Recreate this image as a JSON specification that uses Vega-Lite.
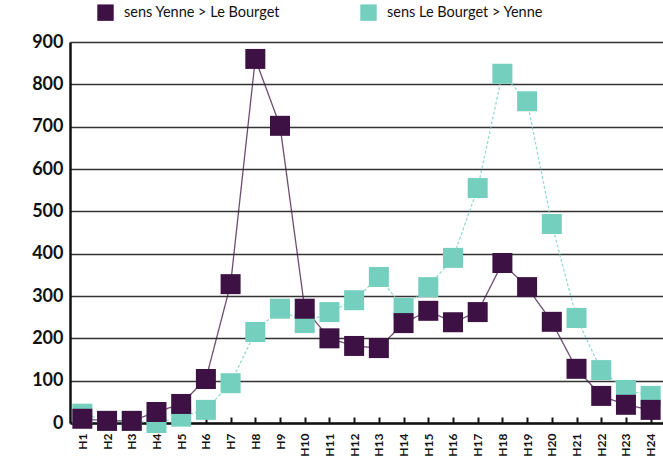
{
  "$schema": "https://vega.github.io/schema/vega-lite/v6.json",
  "width": 593,
  "height": 381,
  "autosize": {"type": "none"},
  "padding": {"left": 70, "top": 42, "right": 0, "bottom": 35},
  "background": "white",
  "config": {
    "font": "Lato",
    "view": {"stroke": null}
  },
  "data": {
    "values": [
      {"h": "H1", "s": "sens Le Bourget > Yenne", "v": 22},
      {"h": "H2", "s": "sens Le Bourget > Yenne", "v": 5},
      {"h": "H3", "s": "sens Le Bourget > Yenne", "v": 5},
      {"h": "H4", "s": "sens Le Bourget > Yenne", "v": 0},
      {"h": "H5", "s": "sens Le Bourget > Yenne", "v": 15},
      {"h": "H6", "s": "sens Le Bourget > Yenne", "v": 31},
      {"h": "H7", "s": "sens Le Bourget > Yenne", "v": 94},
      {"h": "H8", "s": "sens Le Bourget > Yenne", "v": 215},
      {"h": "H9", "s": "sens Le Bourget > Yenne", "v": 270},
      {"h": "H10", "s": "sens Le Bourget > Yenne", "v": 236},
      {"h": "H11", "s": "sens Le Bourget > Yenne", "v": 262},
      {"h": "H12", "s": "sens Le Bourget > Yenne", "v": 290},
      {"h": "H13", "s": "sens Le Bourget > Yenne", "v": 345},
      {"h": "H14", "s": "sens Le Bourget > Yenne", "v": 272},
      {"h": "H15", "s": "sens Le Bourget > Yenne", "v": 321},
      {"h": "H16", "s": "sens Le Bourget > Yenne", "v": 390},
      {"h": "H17", "s": "sens Le Bourget > Yenne", "v": 555},
      {"h": "H18", "s": "sens Le Bourget > Yenne", "v": 825},
      {"h": "H19", "s": "sens Le Bourget > Yenne", "v": 760},
      {"h": "H20", "s": "sens Le Bourget > Yenne", "v": 470},
      {"h": "H21", "s": "sens Le Bourget > Yenne", "v": 248},
      {"h": "H22", "s": "sens Le Bourget > Yenne", "v": 125},
      {"h": "H23", "s": "sens Le Bourget > Yenne", "v": 78},
      {"h": "H24", "s": "sens Le Bourget > Yenne", "v": 64},
      {"h": "H1", "s": "sens Yenne > Le Bourget", "v": 10},
      {"h": "H2", "s": "sens Yenne > Le Bourget", "v": 5},
      {"h": "H3", "s": "sens Yenne > Le Bourget", "v": 5},
      {"h": "H4", "s": "sens Yenne > Le Bourget", "v": 26},
      {"h": "H5", "s": "sens Yenne > Le Bourget", "v": 45},
      {"h": "H6", "s": "sens Yenne > Le Bourget", "v": 104},
      {"h": "H7", "s": "sens Yenne > Le Bourget", "v": 328},
      {"h": "H8", "s": "sens Yenne > Le Bourget", "v": 860},
      {"h": "H9", "s": "sens Yenne > Le Bourget", "v": 702},
      {"h": "H10", "s": "sens Yenne > Le Bourget", "v": 270},
      {"h": "H11", "s": "sens Yenne > Le Bourget", "v": 200},
      {"h": "H12", "s": "sens Yenne > Le Bourget", "v": 182},
      {"h": "H13", "s": "sens Yenne > Le Bourget", "v": 177},
      {"h": "H14", "s": "sens Yenne > Le Bourget", "v": 236},
      {"h": "H15", "s": "sens Yenne > Le Bourget", "v": 265},
      {"h": "H16", "s": "sens Yenne > Le Bourget", "v": 238},
      {"h": "H17", "s": "sens Yenne > Le Bourget", "v": 262},
      {"h": "H18", "s": "sens Yenne > Le Bourget", "v": 378},
      {"h": "H19", "s": "sens Yenne > Le Bourget", "v": 321},
      {"h": "H20", "s": "sens Yenne > Le Bourget", "v": 239},
      {"h": "H21", "s": "sens Yenne > Le Bourget", "v": 128},
      {"h": "H22", "s": "sens Yenne > Le Bourget", "v": 64},
      {"h": "H23", "s": "sens Yenne > Le Bourget", "v": 43},
      {"h": "H24", "s": "sens Yenne > Le Bourget", "v": 31}
    ]
  },
  "encoding": {
    "x": {
      "field": "h",
      "type": "nominal",
      "sort": null,
      "scale": {"paddingInner": 0, "paddingOuter": 0},
      "axis": {
        "title": null,
        "labelAngle": -90,
        "labelFont": "Lato",
        "labelFontWeight": "bold",
        "labelFontSize": 12,
        "labelColor": "#111",
        "labelPadding": 16,
        "bandPosition": 0,
        "tickSize": -6,
        "tickWidth": 2,
        "tickColor": "#111",
        "domainColor": "#111",
        "domainWidth": 2.5,
        "grid": false
      }
    },
    "y": {
      "field": "v",
      "type": "quantitative",
      "scale": {"domain": [0, 900], "nice": false},
      "axis": {
        "title": null,
        "values": [0, 100, 200, 300, 400, 500, 600, 700, 800, 900],
        "labelFont": "Lato",
        "labelFontWeight": "bold",
        "labelFontSize": 18,
        "labelColor": "#111",
        "labelPadding": 7,
        "ticks": false,
        "domainColor": "#111",
        "domainWidth": 2.5,
        "grid": true,
        "gridColor": "#333",
        "gridWidth": 1.5
      }
    },
    "color": {
      "field": "s",
      "type": "nominal",
      "scale": {
        "domain": ["sens Yenne > Le Bourget", "sens Le Bourget > Yenne"],
        "range": ["#3d1143", "#74cfbf"]
      },
      "legend": {
        "title": null,
        "orient": "none",
        "direction": "horizontal",
        "legendX": 27,
        "legendY": -38,
        "symbolType": "square",
        "symbolSize": 270,
        "symbolStrokeWidth": 0,
        "symbolOpacity": 1,
        "labelFont": "Lato",
        "labelFontSize": 14.5,
        "labelColor": "#111",
        "labelOffset": 10,
        "columnPadding": 80
      }
    }
  },
  "layer": [
    {
      "mark": {"type": "line", "strokeWidth": 1.3, "opacity": 0.75},
      "encoding": {
        "strokeDash": {
          "field": "s",
          "type": "nominal",
          "scale": {
            "domain": ["sens Yenne > Le Bourget", "sens Le Bourget > Yenne"],
            "range": [[1, 0], [3, 2]]
          },
          "legend": null
        }
      }
    },
    {
      "mark": {"type": "point", "shape": "square", "filled": true, "size": 400, "opacity": 1}
    }
  ]
}
